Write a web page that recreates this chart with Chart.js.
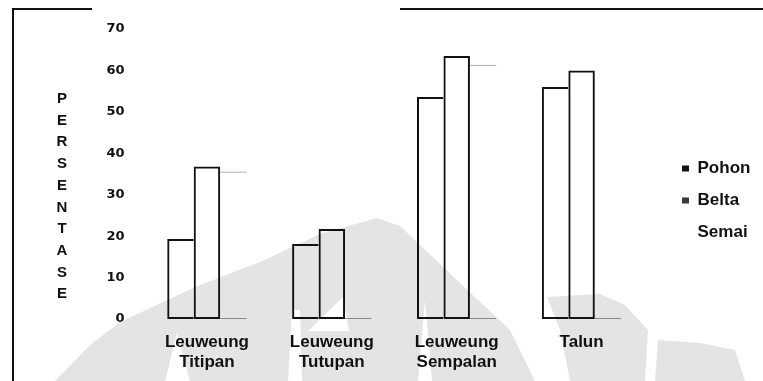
<!DOCTYPE html>
<html>
<head>
<meta charset="utf-8">
<script src="https://cdn.jsdelivr.net/npm/chart.js@4.4.1/dist/chart.umd.min.js"></script>
<style>
  html, body { margin: 0; padding: 0; background: #fff; }
  #wrap { position: relative; width: 763px; height: 381px; overflow: hidden; }
  #c { position: absolute; left: 0; top: 0; }
  #axisTitle {
    position: absolute; left: 52px; top: 87px; width: 20px;
    text-align: center; color: #111;
    font: bold 15px "Liberation Sans", Arial, sans-serif; line-height: 21.7px;
  }
</style>
</head>
<body>
<div id="wrap">
  <canvas id="c" width="763" height="381"></canvas>
  <div id="axisTitle"></div>
</div>
<script>
// Persentase per tingkat pertumbuhan di tiap tipe lahan
const categories = [['Leuweung', 'Titipan'], ['Leuweung', 'Tutupan'], ['Leuweung', 'Sempalan'], 'Talun'];
const seriesNames = ['Pohon', 'Belta', 'Semai'];
const pohon = [19.3, 18.1, 53.6, 56.0];
const belta = [36.8, 21.7, 63.5, 60.0];
const semai = [35.6, 0.3, 61.4, 0.3];
const yMax = 70;
const yStep = 10;
const yTitle = 'PERSENTASE';

const legendColors = ['#111111', '#3a3a3a', 'rgba(0,0,0,0)'];

// vertical axis title, one letter per line
document.getElementById('axisTitle').innerHTML =
  yTitle.split('').map(ch => '<div>' + ch + '</div>').join('');

// faint background emblem and page frame lines
const pageDecor = {
  id: 'pageDecor',
  beforeDraw(chart) {
    const ctx = chart.ctx;
    const poly = (pts, color) => {
      ctx.beginPath();
      ctx.moveTo(pts[0][0], pts[0][1]);
      for (let i = 1; i < pts.length; i++) ctx.lineTo(pts[i][0], pts[i][1]);
      ctx.closePath();
      ctx.fillStyle = color;
      ctx.fill();
    };
    ctx.save();
    const shade = '#e4e4e4';
    poly([[55,381],[90,345],[120,322],[150,308],[200,285],[260,262],[320,234],[377,218],[400,226],[460,283],[510,330],[535,381]], shade);
    poly([[547,297],[600,294],[625,305],[648,330],[645,381],[570,381],[560,330]], shade);
    poly([[658,340],[700,343],[735,350],[745,381],[655,381]], shade);
    poly([[165,381],[177,333],[190,381]], '#fff');
    poly([[343,297],[308,331],[349,331]], '#fff');
    poly([[288,381],[292,310],[300,310],[302,381]], '#fff');
    poly([[418,381],[425,300],[432,381]], '#fff');
    ctx.restore();
  },
  afterDraw(chart) {
    const ctx = chart.ctx;
    ctx.save();
    ctx.strokeStyle = '#111';
    ctx.lineWidth = 2;
    ctx.beginPath();
    ctx.moveTo(13, 381); ctx.lineTo(13, 9); ctx.lineTo(92, 9);
    ctx.moveTo(400, 9); ctx.lineTo(763, 9);
    ctx.stroke();
    ctx.restore();
  }
};

const tickFont = { family: '"DejaVu Sans", sans-serif', size: 13, weight: 'bold' };
const labelFont = { family: '"Liberation Sans", Arial, sans-serif', size: 17, weight: 'bold', lineHeight: 1.16 };

new Chart(document.getElementById('c'), {
  type: 'bar',
  data: {
    labels: categories,
    datasets: [
      {
        label: seriesNames[0], data: pohon,
        backgroundColor: 'rgba(0,0,0,0)', borderColor: '#111',
        borderWidth: { top: 2, left: 2, bottom: 2, right: 0 }, borderSkipped: false
      },
      {
        label: seriesNames[1], data: belta,
        backgroundColor: 'rgba(0,0,0,0)', borderColor: '#111',
        borderWidth: 2, borderSkipped: false
      },
      {
        label: seriesNames[2], data: semai,
        backgroundColor: 'rgba(0,0,0,0)', borderColor: 'rgba(0,0,0,0.4)',
        borderWidth: { top: 1, left: 0, bottom: 1, right: 0 }, borderSkipped: false
      }
    ]
  },
  options: {
    responsive: false,
    devicePixelRatio: 1,
    animation: false,
    categoryPercentage: 0.636,
    barPercentage: 1,
    layout: { padding: { top: 29, bottom: 9, left: 104.5, right: 2.6 } },
    scales: {
      x: {
        grid: { display: false, drawTicks: false },
        border: { display: false },
        ticks: { color: '#111', font: labelFont, padding: 13.6, maxRotation: 0, autoSkip: false },
        afterFit(scale) { scale.height = 53; }
      },
      y: {
        min: 0, max: yMax,
        grid: { display: false, drawTicks: false },
        border: { display: false },
        ticks: { stepSize: yStep, color: '#111', font: tickFont, padding: 20 },
        afterFit(scale) { scale.width = 40; }
      },
      gap: {
        position: 'right', display: true,
        grid: { display: false, drawTicks: false },
        border: { display: false },
        ticks: { display: false },
        afterFit(scale) { scale.width = 23; }
      }
    },
    plugins: {
      tooltip: { enabled: false },
      legend: {
        position: 'right',
        labels: {
          color: '#111',
          font: { family: '"Liberation Sans", Arial, sans-serif', size: 17, weight: 'bold' },
          boxWidth: 7, boxHeight: 6, padding: 15,
          generateLabels(chart) {
            const items = Chart.defaults.plugins.legend.labels.generateLabels(chart);
            items.forEach((it, i) => {
              it.fillStyle = legendColors[i];
              it.strokeStyle = legendColors[i];
              it.lineWidth = 0;
            });
            return items;
          }
        }
      }
    }
  },
  plugins: [pageDecor]
});
</script>
</body>
</html>
